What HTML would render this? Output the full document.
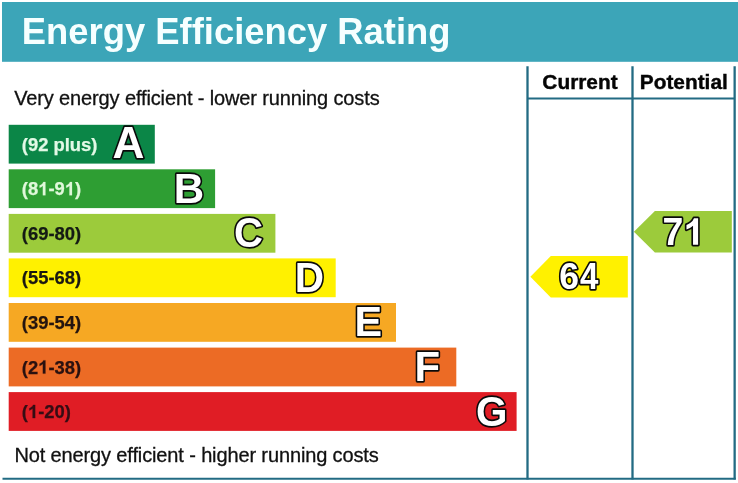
<!DOCTYPE html>
<html><head><meta charset="utf-8"><title>Energy Efficiency Rating</title>
<style>
html,body{margin:0;padding:0;background:#fff;}
body{width:738px;height:483px;overflow:hidden;font-family:"Liberation Sans",sans-serif;}
svg{display:block;will-change:transform;}
text{font-family:"Liberation Sans",sans-serif;}
.b{font-weight:bold;}
.let{font-weight:bold;font-size:42px;fill:#fff;stroke:#0a0a0a;stroke-width:3.3px;paint-order:stroke fill;stroke-linejoin:round;}
.num{font-weight:bold;font-size:37px;fill:#fff;stroke:#0a0a0a;stroke-width:3.3px;paint-order:stroke fill;stroke-linejoin:round;}
</style></head><body>
<svg width="738" height="483" viewBox="0 0 738 483">
<rect x="0" y="0" width="738" height="483" fill="#ffffff"/>
<rect x="2" y="2" width="736" height="59.8" fill="#3ca5b8"/>
<text x="21.8" y="43.7" class="b" font-size="36.4" fill="#f6ffff">Energy Efficiency Rating</text>
<text x="14.2" y="105.2" font-size="20" letter-spacing="-0.13" stroke="#111" stroke-width="0.3" fill="#111">Very energy efficient - lower running costs</text>
<text x="14.4" y="461.6" font-size="20" letter-spacing="-0.13" stroke="#111" stroke-width="0.3" fill="#111">Not energy efficient - higher running costs</text>

<rect x="8.7" y="124.8" width="146.1" height="38.8" fill="#0b8647"/>
<text x="21.80" y="150.8" class="b" font-size="18.4" fill="#e2f9e6" stroke="#e2f9e6" stroke-width="0.25">(92 plus)</text>
<g transform="translate(112.50,158.35) scale(1.0522,1.0417)"><text x="0" y="0" class="let" style="font-size:42.0px;stroke-width:3.152px">A</text></g>
<rect x="8.7" y="169.3" width="206.4" height="38.8" fill="#2e9e33"/>
<text x="21.80" y="195.3" class="b" font-size="18.4" fill="#e0f8da" stroke="#e0f8da" stroke-width="0.25">(8</text>
<path transform="translate(38.16,195.3) scale(0.008984,-0.008984)" fill="#e0f8da" stroke="#e0f8da" stroke-width="28" d="M806 0H525V1059Q371 915 162 846V1101Q272 1137 401 1237.5Q530 1338 578 1472H806Z"/>
<text x="48.39" y="195.3" class="b" font-size="18.4" fill="#e0f8da" stroke="#e0f8da" stroke-width="0.25">-9</text>
<path transform="translate(64.75,195.3) scale(0.008984,-0.008984)" fill="#e0f8da" stroke="#e0f8da" stroke-width="28" d="M806 0H525V1059Q371 915 162 846V1101Q272 1137 401 1237.5Q530 1338 578 1472H806Z"/>
<text x="74.98" y="195.3" class="b" font-size="18.4" fill="#e0f8da" stroke="#e0f8da" stroke-width="0.25">)</text>
<g transform="translate(173.73,203.05) scale(1.0033,1.0261)"><text x="0" y="0" class="let" style="font-size:42.0px;stroke-width:3.252px">B</text></g>
<rect x="8.7" y="213.9" width="266.7" height="38.8" fill="#9ccb3b"/>
<text x="21.80" y="239.9" class="b" font-size="18.4" fill="#141a14" stroke="#141a14" stroke-width="0.25">(69-80)</text>
<g transform="translate(233.90,247.13) scale(0.9578,1.0139)"><text x="0" y="0" class="let" style="font-size:42.0px;stroke-width:3.347px">C</text></g>
<rect x="8.7" y="258.4" width="327.0" height="38.8" fill="#fff100"/>
<text x="21.80" y="284.4" class="b" font-size="18.4" fill="#1a1812" stroke="#1a1812" stroke-width="0.25">(55-68)</text>
<g transform="translate(294.63,292.25) scale(0.9667,1.0330)"><text x="0" y="0" class="let" style="font-size:42.0px;stroke-width:3.300px">D</text></g>
<rect x="8.7" y="303.0" width="387.3" height="38.8" fill="#f6a823"/>
<text x="21.80" y="329.0" class="b" font-size="18.4" fill="#24140f" stroke="#24140f" stroke-width="0.25">(39-54)</text>
<g transform="translate(354.58,336.25) scale(0.9846,1.0330)"><text x="0" y="0" class="let" style="font-size:42.0px;stroke-width:3.271px">E</text></g>
<rect x="8.7" y="347.6" width="447.6" height="38.8" fill="#ec6b25"/>
<text x="21.80" y="373.6" class="b" font-size="18.4" fill="#2a1110" stroke="#2a1110" stroke-width="0.25">(2</text>
<path transform="translate(38.16,373.6) scale(0.008984,-0.008984)" fill="#2a1110" stroke="#2a1110" stroke-width="28" d="M806 0H525V1059Q371 915 162 846V1101Q272 1137 401 1237.5Q530 1338 578 1472H806Z"/>
<text x="48.39" y="373.6" class="b" font-size="18.4" fill="#2a1110" stroke="#2a1110" stroke-width="0.25">-38)</text>
<g transform="translate(414.55,381.25) scale(0.9973,1.0330)"><text x="0" y="0" class="let" style="font-size:42.0px;stroke-width:3.251px">F</text></g>
<rect x="8.7" y="392.1" width="507.9" height="38.8" fill="#e01d25"/>
<text x="21.80" y="418.1" class="b" font-size="18.4" fill="#360d14" stroke="#360d14" stroke-width="0.25">(</text>
<path transform="translate(27.93,418.1) scale(0.008984,-0.008984)" fill="#360d14" stroke="#360d14" stroke-width="28" d="M806 0H525V1059Q371 915 162 846V1101Q272 1137 401 1237.5Q530 1338 578 1472H806Z"/>
<text x="38.16" y="418.1" class="b" font-size="18.4" fill="#360d14" stroke="#360d14" stroke-width="0.25">-20)</text>
<g transform="translate(476.09,425.93) scale(0.9632,1.0122)"><text x="0" y="0" class="let" style="font-size:42.0px;stroke-width:3.341px">G</text></g>

<g stroke="#226b83" stroke-width="2.3" fill="none">
<line x1="527.5" y1="66.3" x2="527.5" y2="479.6"/>
<line x1="632.5" y1="66.3" x2="632.5" y2="479.6"/>
<line x1="734.65" y1="66.3" x2="734.65" y2="479.6"/>
</g>
<g stroke="#226b83" stroke-width="2" fill="none">
<line x1="527.5" y1="98.5" x2="734.5" y2="98.5"/>
<line x1="2.5" y1="478.7" x2="735.8" y2="478.7"/>
</g>
<text x="580" y="89.4" class="b" font-size="20.85" fill="#050505" stroke="#050505" stroke-width="0.4" text-anchor="middle">Current</text>
<text x="683.8" y="89.4" class="b" font-size="20.85" fill="#050505" stroke="#050505" stroke-width="0.4" text-anchor="middle">Potential</text>
<polygon points="530.4,276.8 550.8,256.1 627.8,256.1 627.8,297.5 550.8,297.5" fill="#fff100"/>
<g transform="translate(559.25,289.04) scale(0.9617,0.9944)"><text x="0" y="0" class="num" style="font-size:37.0px;stroke-width:3.374px">6</text></g>
<g transform="translate(580.05,289.15) scale(0.8931,1.0037)"><text x="0" y="0" class="num" style="font-size:37.0px;stroke-width:3.480px">4</text></g>
<polygon points="633.9,231.8 654.9,211.1 731.8,211.1 731.8,252.5 654.9,252.5" fill="#9ccb3b"/>
<g transform="translate(662.54,244.65) scale(1.0137,1.0332)"><text x="0" y="0" class="num" style="font-size:37.0px;stroke-width:3.224px">7</text></g>
<path class="num" transform="translate(683.55,244.8) scale(0.018066,-0.018066)" style="stroke-width:183px" d="M806 0H525V1059Q371 915 162 846V1101Q272 1137 401 1237.5Q530 1338 578 1472H806Z"/>
</svg>
</body></html>
